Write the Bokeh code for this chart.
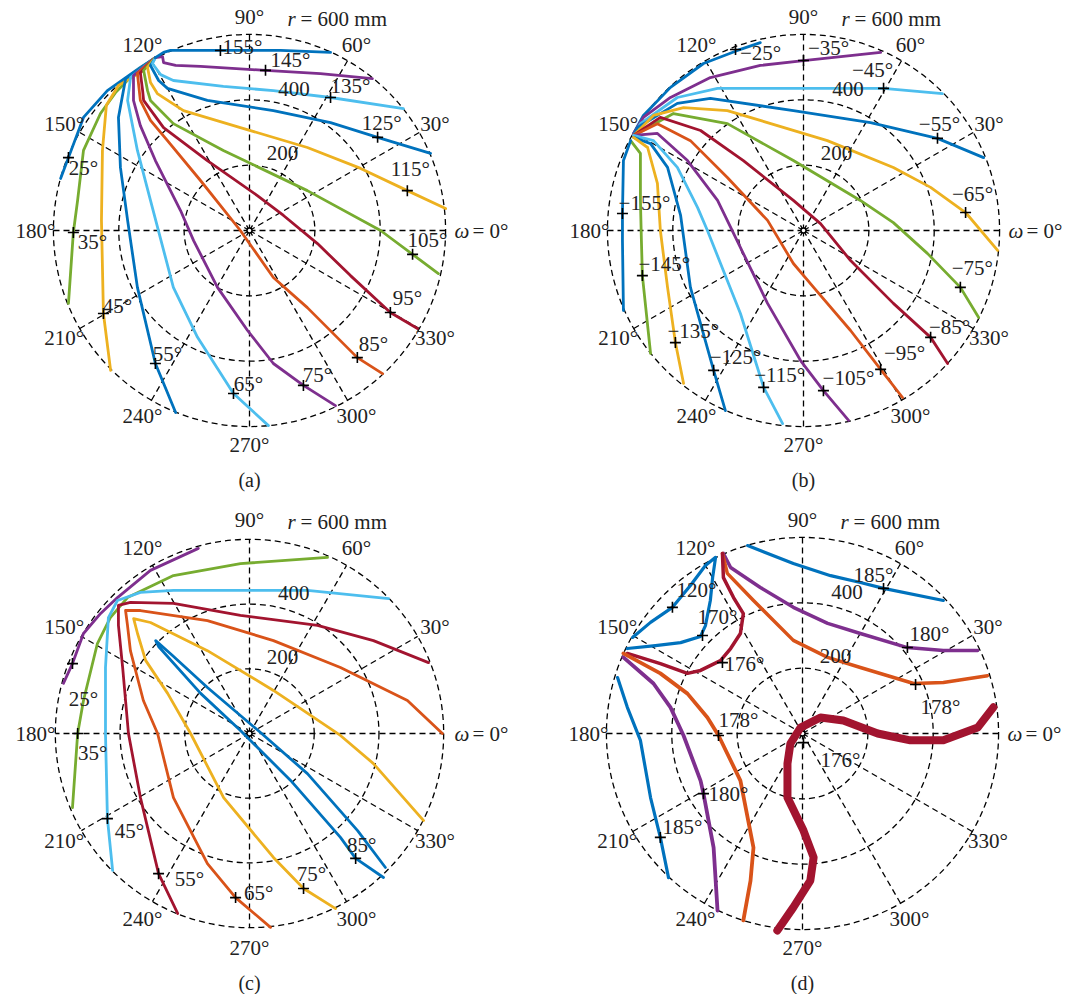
import math
from bokeh.plotting import figure
from bokeh.layouts import gridplot
from bokeh.models import ColumnDataSource
from bokeh.core.properties import value
from bokeh.embed import file_html
from bokeh.resources import INLINE

# ---------------- data (mm, cartesian of the polar plane) ----------------
RINGS = [200, 400, 600]
SPOKE_ANGLES = list(range(0, 360, 30))
ANGLE_LABELS = ["30°", "60°", "90°", "120°", "150°", "180°", "210°", "240°", "270°", "300°", "330°"]
RING_LABELS = ["200", "400"]

# panel (a): curves labelled by omega at the marked point
A_LABELS = ["25°", "35°", "45°", "55°", "65°", "75°", "85°", "95°", "105°", "115°", "125°", "135°", "145°", "155°"]
A_X = [
    [-288, -334, -435, -508, -554, -578],
    [-288, -343, -410, -456, -508, -526, -539, -554],
    [-288, -334, -401, -438, -450, -453, -447, -425],
    [-288, -379, -401, -395, -373, -343, -288, -226],
    [-288, -364, -373, -343, -303, -233, -159, -49, 58],
    [-288, -355, -355, -334, -288, -211, -171, -98, -6, 73, 165, 263],
    [-288, -343, -334, -303, -251, -150, -28, 73, 177, 330, 407],
    [-288, -334, -327, -324, -263, -129, 24, 104, 208, 309, 431, 514],
    [-288, -324, -312, -303, -233, -80, 177, 401, 499, 578],
    [-288, -312, -303, -282, -202, -28, 177, 340, 483, 600],
    [-288, -303, -278, -251, -129, 73, 248, 392, 554],
    [-288, -297, -272, -233, -80, 73, 248, 471],
    [-288, -266, -263, -226, -150, 49, 217, 376],
    [-288, -263, -242, -89, 95, 248],
]
A_Y = [
    [529, 499, 428, 346, 223, 159],
    [529, 490, 422, 358, 245, 92, -6, -223],
    [529, 483, 444, 383, 245, 31, -254, -428],
    [529, 465, 346, 193, 31, -174, -407, -557],
    [529, 468, 398, 245, 92, -174, -327, -499, -597],
    [529, 474, 398, 321, 214, 61, -31, -174, -306, -407, -474, -536],
    [529, 480, 398, 337, 275, 153, 0, -144, -236, -389, -438],
    [529, 483, 428, 398, 315, 214, 107, 46, -40, -138, -251, -300],
    [529, 490, 428, 398, 327, 245, 122, 0, -73, -132],
    [529, 499, 453, 419, 367, 315, 254, 190, 122, 67],
    [529, 505, 459, 435, 398, 367, 330, 285, 236],
    [529, 511, 477, 459, 441, 428, 407, 373],
    [529, 532, 514, 505, 502, 490, 480, 465],
    [529, 545, 551, 551, 551, 545],
]
A_MARK_X = [-554, -539, -447, -288, -49, 165, 330, 431, 499, 483, 392, 248, 49, -89]
A_MARK_Y = [223, -6, -254, -407, -499, -474, -389, -251, -73, 122, 285, 407, 490, 551]

# panel (b)
B_LABELS = ["−25°", "−35°", "−45°", "−55°", "−65°", "−75°", "−85°", "−95°", "−105°", "−115°", "−125°", "−135°", "−145°", "−155°"]
B_X = [
    [-520, -490, -407, -306, -202, -132],
    [-520, -490, -407, -285, -132, 0, 236],
    [-520, -499, -386, -263, -31, 245, 425],
    [-520, -508, -386, -285, -31, 205, 410, 551],
    [-520, -459, -367, -233, 73, 275, 389, 496, 594],
    [-520, -398, -233, -31, 174, 275, 379, 480, 536],
    [-520, -438, -315, -184, -31, 52, 144, 275, 389, 441],
    [-520, -447, -346, -233, -110, -31, 31, 144, 236, 303],
    [-520, -447, -355, -263, -214, -110, -9, 61, 138],
    [-520, -459, -386, -324, -294, -193, -122, -64],
    [-520, -468, -416, -376, -346, -275, -239],
    [-520, -477, -447, -438, -416, -392, -367],
    [-529, -499, -499, -496, -493, -468],
    [-529, -551, -554, -554, -551],
]
B_Y = [
    [297, 352, 438, 511, 551, 575],
    [297, 346, 407, 468, 505, 520, 545],
    [291, 327, 407, 435, 435, 435, 419],
    [291, 315, 389, 404, 367, 330, 282, 223],
    [291, 352, 376, 367, 275, 193, 132, 55, -61],
    [291, 358, 327, 214, 92, 24, -70, -174, -266],
    [291, 346, 306, 214, 92, 21, -92, -223, -327, -407],
    [291, 327, 275, 162, 31, -101, -174, -306, -425, -511],
    [291, 297, 214, 92, -9, -223, -398, -490, -581],
    [291, 275, 193, 70, 0, -254, -480, -591],
    [285, 266, 193, 46, -174, -428, -551],
    [285, 254, 144, 0, -174, -343, -468],
    [275, 236, 92, -31, -138, -376],
    [275, 214, 52, -31, -245],
]
B_MARK_X = [-208, 0, 245, 410, 496, 480, 389, 236, 61, -122, -275, -392, -493, -554]
B_MARK_Y = [554, 520, 435, 282, 55, -174, -327, -425, -490, -480, -428, -343, -138, 52]

# panel (c)
C_LABELS = ["25°", "35°", "45°", "55°", "65°", "75°", "85°"]
C_X = [
    [-575, -547, -513, -460, -408, -306, -158],
    [241, -28, -235, -377, -430, -470, -513, -531, -547],
    [430, 179, -28, -235, -337, -408, -436, -445, -445, -439, -423],
    [553, 383, 210, -28, -235, -368, -405, -405, -392, -374, -337, -281, -222],
    [596, 488, 281, 74, -130, -337, -383, -377, -368, -328, -284, -235, -130, -43, 65],
    [538, 383, 281, 74, -130, -306, -358, -346, -321, -253, -182, -80, 74, 167, 266],
    [420, 334, 179, 34, -130, -238, -290, -281, -151, -28, 127, 281, 328, 414],
]
C_Y = [
    [155, 216, 309, 371, 420, 504, 572],
    [544, 525, 488, 420, 358, 278, 102, 0, -229],
    [417, 442, 442, 442, 436, 411, 358, 204, 0, -263, -423],
    [219, 287, 334, 365, 402, 405, 396, 334, 204, 0, -198, -433, -556],
    [0, 102, 204, 287, 349, 380, 380, 334, 256, 102, 0, -198, -402, -507, -599],
    [-269, -93, -6, 133, 256, 343, 355, 309, 226, 124, 0, -198, -383, -479, -541],
    [-414, -300, -124, 3, 142, 241, 287, 269, 124, 9, -145, -321, -386, -445],
]
C_MARK_X = [-547, -531, -439, -281, -43, 167, 328]
C_MARK_Y = [216, 0, -263, -433, -507, -479, -386]

# panel (d)
D_X = [
    [-168, -28, 86, 177, 248, 431],
    [-520, -465, -398, -343, -297, -266, -275, -282, -297, -312, -373, -450, -536],
    [-242, -220, -129, -28, 77, 177, 321, 431, 536],
    [-245, -230, -150, -28, 77, 177, 340, 431, 566],
    [-245, -242, -211, -181, -190, -220, -251, -312, -352, -435, -536],
    [-566, -536, -496, -465, -435, -410],
    [-548, -456, -404, -364, -312, -303, -272, -260],
    [-548, -435, -352, -291, -257, -190, -150, -159, -181],
    [584, 536, 431, 330, 230, 125, 55, -6, -37, -46, -46, 3, 34, 24, -28, -77],
]
D_Y = [
    [575, 520, 483, 462, 444, 407],
    [294, 340, 386, 453, 514, 539, 477, 407, 330, 297, 278, 269, 260],
    [551, 508, 447, 386, 337, 306, 263, 254, 254],
    [551, 490, 407, 285, 233, 202, 153, 156, 177],
    [551, 477, 416, 367, 306, 260, 223, 193, 184, 214, 245],
    [171, 80, -21, -196, -318, -441],
    [233, 153, 80, -6, -144, -184, -349, -542],
    [245, 184, 122, 49, -6, -144, -349, -450, -572],
    [80, 18, -21, -21, 0, 40, 49, 18, -31, -92, -196, -297, -379, -450, -532, -603],
]
D_LABELS = ["185°", "120°", "170°", "180°", "178°", "176°", "185°", "180°", "178°", "176°"]
D_MARK_X = [248, -398, -306, 321, 346, -245, -435, -303, -257, 3]
D_MARK_Y = [444, 386, 300, 263, 150, 217, -318, -184, -6, -28]

# ---------------- styles / layout ----------------
BLUE = "#0072BD"; ORANGE = "#D95319"; YELLOW = "#EDB120"; PURPLE = "#7E2F8E"
GREEN = "#77AC30"; CYAN = "#4DBEEE"; RED = "#A2142F"

A_COLORS = [BLUE, GREEN, YELLOW, BLUE, CYAN, PURPLE, ORANGE, RED, GREEN, YELLOW, BLUE, CYAN, PURPLE, BLUE]
B_COLORS = [BLUE, PURPLE, CYAN, BLUE, YELLOW, GREEN, RED, ORANGE, PURPLE, CYAN, BLUE, YELLOW, GREEN, BLUE]
C_COLORS = [PURPLE, GREEN, CYAN, RED, ORANGE, YELLOW, BLUE]
D_COLORS = [BLUE, BLUE, PURPLE, ORANGE, RED, BLUE, PURPLE, ORANGE, RED]
D_WIDTHS = [3.2, 3.2, 3.5, 3.5, 3.5, 3.2, 3.8, 3.8, 8.0]

A_OFF = [(15, -10), (19, -10), (14, 8), (12, 10), (15, 10), (14, 10), (16, 14), (17, 15), (15, 14), (3, 22), (4, 14), (20, 11), (25, 10), (22, 3)]
B_OFF = [(25, -4), (25, 13), (-11, 18), (2, 14), (7, 19), (12, 19), (19, 10), (24, 16), (25, 13), (16, 12), (22, 13), (18, 12), (22, 12), (22, 11)]
C_OFF = [(11, -35), (15, -19), (22, -12), (31, -5), (23, 5), (8, 15), (6, 13)]
D_OFF = [(-10, 13), (24, 17), (15, 18), (22, 14), (25, -23), (22, -1), (22, 10), (25, 0), (20, 15), (37, -17)]

FONT = value("Liberation Serif")
FS = "21px"
W, H = 534, 497


def make_panel(cx, cy, k, xs, ys, colors, widths, mx, my, mlab, offs, caption):
    p = figure(width=W, height=H,
               x_range=(-cx * k, (W - cx) * k), y_range=(-(H - cy) * k, cy * k),
               x_axis_type=None, y_axis_type=None, toolbar_location=None,
               output_backend="svg", min_border=0, outline_line_color=None,
               background_fill_color="white", border_fill_color="white")
    # polar grid
    rad = [math.radians(a) for a in SPOKE_ANGLES]
    p.segment(x0=[0] * len(rad), y0=[0] * len(rad),
              x1=[RINGS[-1] * math.cos(a) for a in rad],
              y1=[RINGS[-1] * math.sin(a) for a in rad],
              line_color="black", line_width=1.3, line_dash="6 4")
    p.circle(x=[0] * len(RINGS), y=[0] * len(RINGS), radius=RINGS,
             fill_color=None, line_color="black", line_width=1.3, line_dash="6 4")
    p.scatter(x=[0], y=[0], marker="circle", size=5, fill_color="white",
              line_color="black", line_width=1.4)

    # curves
    src = ColumnDataSource(dict(xs=xs, ys=ys, c=colors, w=widths))
    p.multi_line("xs", "ys", line_color="c", line_width="w", source=src,
                 line_join="round", line_cap="round")

    # markers + their labels
    p.scatter(x=mx, y=my, marker="cross", size=11, line_color="black", line_width=1.6)
    lsrc = ColumnDataSource(dict(x=mx, y=my, t=mlab,
                                 dx=[o[0] for o in offs], dy=[-o[1] for o in offs]))
    p.text("x", "y", text="t", x_offset="dx", y_offset="dy", source=lsrc,
           text_align="center", text_baseline="middle", text_font=FONT,
           text_font_size=FS, text_color="#222222")

    # ring labels
    rl = math.radians(80)
    p.text(x=[r * math.cos(rl) for r in RINGS[:2]], y=[r * math.sin(rl) for r in RINGS[:2]],
           text=RING_LABELS, x_offset=6, y_offset=-6, text_align="left",
           text_baseline="bottom", text_font=FONT, text_font_size=FS, text_color="#222222")

    # angle labels
    lab_r = 214 * k
    ang = [math.radians(a) for a in SPOKE_ANGLES[1:]]
    p.text(x=[lab_r * math.cos(a) for a in ang], y=[lab_r * math.sin(a) for a in ang],
           text=ANGLE_LABELS, text_align="center", text_baseline="middle",
           text_font=FONT, text_font_size=FS, text_color="#222222")
    # omega = 0 label
    p.text(x=[0], y=[0], text=["ω"], x_offset=205, y_offset=0, text_align="left",
           text_baseline="middle", text_font=FONT, text_font_style="italic",
           text_font_size=FS, text_color="#222222")
    p.text(x=[0], y=[0], text=["= 0°"], x_offset=223, y_offset=0, text_align="left",
           text_baseline="middle", text_font=FONT, text_font_size=FS, text_color="#222222")
    # r = 600 mm
    p.text(x=[0], y=[0], text=["r"], x_offset=38, y_offset=-212, text_align="left",
           text_baseline="middle", text_font=FONT, text_font_style="italic",
           text_font_size=FS, text_color="#222222")
    p.text(x=[0], y=[0], text=["= 600 mm"], x_offset=51, y_offset=-212, text_align="left",
           text_baseline="middle", text_font=FONT, text_font_size=FS, text_color="#222222")
    # caption
    p.text(x=[0], y=[0], text=[caption], x_offset=0, y_offset=249, text_align="center",
           text_baseline="middle", text_font=FONT, text_font_size="20px", text_color="#222222")
    return p


pa = make_panel(249, 230, 3.06, A_X, A_Y, A_COLORS, [2.8] * len(A_X),
                A_MARK_X, A_MARK_Y, A_LABELS, A_OFF, "(a)")
pb = make_panel(269, 230, 3.06, B_X, B_Y, B_COLORS, [2.8] * len(B_X),
                B_MARK_X, B_MARK_Y, B_LABELS, B_OFF, "(b)")
pc = make_panel(249, 236, 3.09, C_X, C_Y, C_COLORS, [2.8] * len(C_X),
                C_MARK_X, C_MARK_Y, C_LABELS, C_OFF, "(c)")
pd = make_panel(268, 236, 3.06, D_X, D_Y, D_COLORS, D_WIDTHS,
                D_MARK_X, D_MARK_Y, D_LABELS, D_OFF, "(d)")

grid = gridplot([[pa, pb], [pc, pd]], toolbar_location=None)

with open("out.html", "w") as f:
    f.write(file_html(grid, INLINE))
